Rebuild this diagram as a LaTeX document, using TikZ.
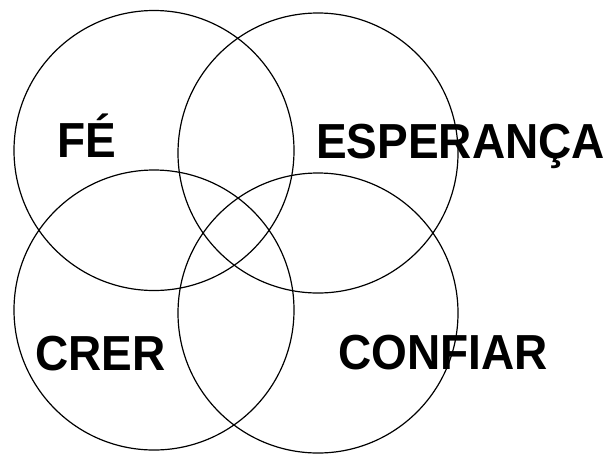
\documentclass[tikz,border=0pt]{standalone}
\usepackage{fontspec}
\setmainfont{Liberation Sans}
\newcommand{\tallText}[1]{\scalebox{1}[1.07]{#1}}
\begin{document}
\begin{tikzpicture}[x=1pt,y=-1pt,
  ring/.style={draw=black,line width=1.2pt},
  lbl/.style={anchor=base west,inner sep=0pt,font=\fontsize{46}{55}\selectfont\bfseries}]
\useasboundingbox (0,0) rectangle (609,453);
\draw[ring] (154,150.5) circle[radius=140];
\draw[ring] (318,153) circle[radius=140];
\draw[ring] (154,310) circle[radius=140];
\draw[ring] (318,313) circle[radius=140];
\node[lbl] (fe) at (57,157) {\tallText{FÉ}};
\node[lbl] (esp) at (316,158) {\tallText{ESPERANÇA}};
\node[lbl] (crer) at (35,370) {\tallText{CRER}};
\node[lbl] (conf) at (338,369) {\tallText{CONFIAR}};
\end{tikzpicture}
\end{document}
